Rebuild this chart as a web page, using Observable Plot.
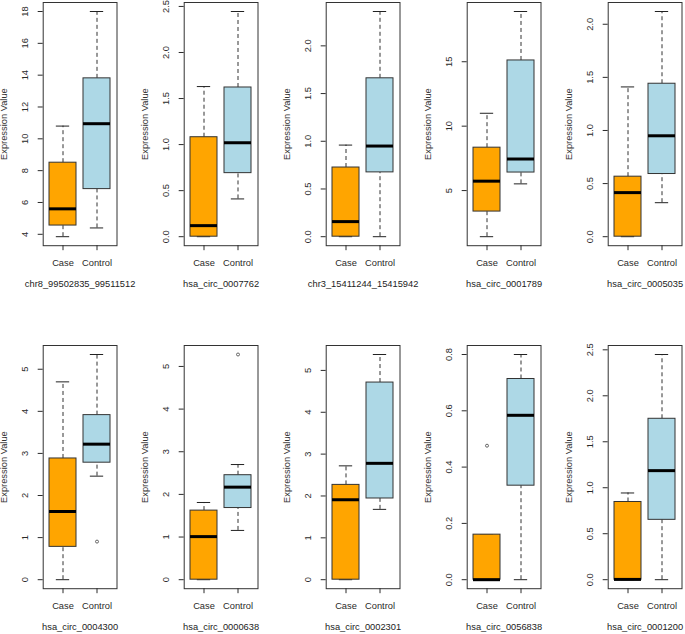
<!DOCTYPE html>
<html><head><meta charset="utf-8">
<script src="https://cdn.jsdelivr.net/npm/d3@7"></script>
<script src="https://cdn.jsdelivr.net/npm/@observablehq/plot@0.6"></script>
<style>
html,body{margin:0;padding:0;background:#fff;overflow:hidden;}
#chart{position:relative;width:685px;height:634px;overflow:hidden;background:#fff;}
.panel{position:absolute;width:141px;height:317px;}
</style></head><body><div id="chart"></div>
<script>
// ---- data ----
const panelNames = ["chr8_99502835_99511512","hsa_circ_0007762","chr3_15411244_15415942","hsa_circ_0001789","hsa_circ_0005035",
                    "hsa_circ_0004300","hsa_circ_0000638","hsa_circ_0002301","hsa_circ_0056838","hsa_circ_0001200"];
const groups = ["Case","Control"];
const groupColors = ["orange","lightblue"];
const yLabel = "Expression Value";
// five-number summaries (lower whisker, Q1, median, Q3, upper whisker)
const caseLow     = [3.85, 0,     0,     1.42, 0,     0,    0,     0,     0,     0];
const caseQ1      = [4.55, 0,     0,     3.37, 0,     0.78, 0,     0,     0,     0];
const caseMedian  = [5.6,  0.12,  0.158, 5.73, 0.415, 1.62, 1.01,  1.91,  0,     0.003];
const caseQ3      = [8.5,  1.08,  0.725, 8.33, 0.565, 2.88, 1.62,  2.265, 0.16,  0.845];
const caseHigh    = [10.8, 1.63,  0.96,  11.0, 1.41,  4.70, 1.81,  2.72,  0.16,  0.943];
const ctrlLow     = [4.4,  0.41,  0,     5.52, 0.32,  2.46, 1.155, 1.68,  0,     0];
const ctrlQ1      = [6.84, 0.69,  0.674, 6.4,  0.59,  2.78, 1.68,  1.94,  0.334, 0.651];
const ctrlMedian  = [10.95,1.02,  0.95,  7.45, 0.95,  3.22, 2.17,  2.78,  0.584, 1.186];
const ctrlQ3      = [13.8, 1.62,  1.66,  15.1, 1.44,  3.91, 2.45,  4.71,  0.713, 1.75];
const ctrlHigh    = [18.0, 2.445, 2.36,  18.9, 2.12,  5.35, 2.70,  5.38,  0.80,  2.449];
// outliers
const outlierPanel = [5, 6, 8];
const outlierGroup = ["Control","Control","Case"];
const outlierValue = [0.905, 5.28, 0.476];
// y tick labels
const yTicks = [[4,6,8,10,12,14,16,18],[0,0.5,1,1.5,2,2.5],[0,0.5,1,1.5,2],[5,10,15],[0,0.5,1,1.5,2],
                [0,1,2,3,4,5],[0,1,2,3,4,5],[0,1,2,3,4,5],[0,0.2,0.4,0.6,0.8],[0,0.5,1,1.5,2,2.5]];
const yTickDigits = [0,1,1,0,1,0,0,0,1,1];

// ---- layout ----
const W = 141, H = 317, ML = 42.7, PW = 73.8, MT = 2, PH = 243.2;
const colStep = 141.3, rowStep = 343;
const bandW = 0.8 * PW / 2.16;
const capInset = bandW / 4;
const chart = document.getElementById("chart");

for (let i = 0; i < 10; i++) {
  const c = i % 5, r = Math.floor(i / 5);
  const stats = [
    {group: groups[0], fill: groupColors[0], lo: caseLow[i], q1: caseQ1[i], med: caseMedian[i], q3: caseQ3[i], hi: caseHigh[i]},
    {group: groups[1], fill: groupColors[1], lo: ctrlLow[i], q1: ctrlQ1[i], med: ctrlMedian[i], q3: ctrlQ3[i], hi: ctrlHigh[i]}
  ];
  const outs = outlierPanel.map((p, k) => ({p, group: outlierGroup[k], value: outlierValue[k]})).filter(o => o.p === i);
  const all = stats.flatMap(s => [s.lo, s.hi]).concat(outs.map(o => o.value));
  const mn = d3.min(all), mx = d3.max(all), ext = (mx - mn) * 0.04;
  const fmt = d3.format(`.${yTickDigits[i]}f`);
  const plot = Plot.plot({
    width: W, height: H,
    marginLeft: ML, marginRight: W - ML - PW, marginTop: MT, marginBottom: H - MT - PH,
    style: {fontFamily: "'Liberation Sans', Arial, sans-serif", fontSize: "9.3px", color: "#2a2a2a", background: "transparent", overflow: "visible"},
    x: {type: "band", domain: groups, paddingInner: 0.2, paddingOuter: 0.18},
    y: {domain: [mn - ext, mx + ext]},
    marks: [
      Plot.ruleX(stats, {x: "group", y1: "q3", y2: "hi", stroke: "#333", strokeDasharray: "4,3"}),
      Plot.ruleX(stats, {x: "group", y1: "lo", y2: "q1", stroke: "#333", strokeDasharray: "4,3"}),
      Plot.tickY(stats, {x: "group", y: "hi", stroke: "#222", insetLeft: capInset, insetRight: capInset}),
      Plot.tickY(stats, {x: "group", y: "lo", stroke: "#222", insetLeft: capInset, insetRight: capInset}),
      Plot.barY(stats, {x: "group", y1: "q1", y2: "q3", fill: "fill", stroke: "#333", strokeWidth: 1}),
      Plot.tickY(stats, {x: "group", y: "med", stroke: "#000", strokeWidth: 3}),
      Plot.dot(outs, {x: "group", y: "value", r: 1.5, stroke: "#444", strokeWidth: 0.8}),
      Plot.frame({stroke: "#333"}),
      Plot.axisY(yTicks[i], {tickSize: 5, tickPadding: 13, tickRotate: -90, lineAnchor: "middle", tickFormat: fmt, label: null}),
      Plot.axisX({tickSize: 5, tickPadding: 12.7, lineAnchor: "middle", label: null}),
      Plot.text([yLabel], {text: d => d, frameAnchor: "left", dx: -39, rotate: -90, lineAnchor: "middle", textAnchor: "middle", fill: "#333"}),
      Plot.text([panelNames[i]], {text: d => d, frameAnchor: "bottom", dy: 38.3, lineAnchor: "middle", textAnchor: "middle", fill: "#222"})
    ]
  });
  const div = document.createElement("div");
  div.className = "panel";
  div.style.left = (c * colStep) + "px";
  div.style.top = (r * rowStep) + "px";
  div.appendChild(plot);
  chart.appendChild(div);
}
</script>
</body></html>
